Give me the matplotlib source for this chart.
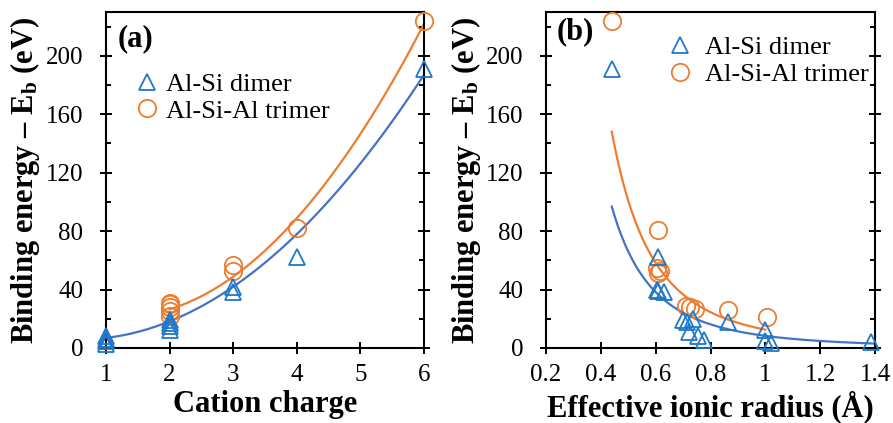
import numpy as np
import matplotlib
matplotlib.use("Agg")
import matplotlib.pyplot as plt
from matplotlib.lines import Line2D
from matplotlib.ticker import MultipleLocator

# ---------------- data ----------------
# panel (a): binding energy vs cation charge
a_dimer_q = [1, 1, 1, 1, 2, 2, 2, 2, 3, 3, 4, 6]
a_dimer_E = [3, 5, 6, 8, 12, 15, 17, 19, 38, 42, 62, 191]
a_trimer_q = [2, 2, 2, 2, 2, 3, 3, 4, 6]
a_trimer_E = [22, 25, 28, 30, 31, 53, 57, 82, 224]

# trend lines of panel (a) (quadratic trendlines)
a_trend_dimer_q = [1, 2, 3, 4, 6]
a_trend_dimer_E = [7, 18, 42, 78, 187]
a_trend_trimer_q = [2, 3, 4, 6]
a_trend_trimer_E = [26, 50, 88, 222]

# panel (b): binding energy vs effective ionic radius
b_dimer_r = [0.44, 0.61, 0.605, 0.61, 0.63, 0.70, 0.715, 0.735, 0.72, 0.755, 0.775,
             0.865, 1.0, 1.0, 1.02, 1.385]
b_dimer_E = [191, 62, 40, 39, 38, 19, 18, 20, 11, 8, 5.5,
             18, 12.5, 4.5, 3.5, 4]
b_trimer_r = [0.44, 0.61, 0.605, 0.615, 0.61, 0.71, 0.725, 0.745, 0.865, 1.005]
b_trimer_E = [224, 81, 55, 53, 51, 29, 28, 27, 26, 21.5]

# trend lines of panel (b) (power-law trendlines)
b_trend_dimer_r = [0.44, 0.6, 0.8, 1.0, 1.4]
b_trend_dimer_E = [94.5, 40, 15.7, 8.5, 3]
b_trend_trimer_r = [0.44, 0.6, 0.8, 1.0]
b_trend_trimer_E = [148, 60, 23, 13]

xticks_a = [1, 2, 3, 4, 5, 6]
xticks_b = [0.2, 0.4, 0.6, 0.8, 1.0, 1.2, 1.4]
xticklabels_b = ["0.2", "0.4", "0.6", "0.8", "1", "1.2", "1.4"]
yticks = [0, 40, 80, 120, 160, 200]

# ---------------- style ----------------
plt.rcParams["font.family"] = ["Liberation Serif", "DejaVu Serif"]
plt.rcParams["mathtext.fontset"] = "custom"
plt.rcParams["mathtext.rm"] = "Liberation Serif:bold"
plt.rcParams["mathtext.bf"] = "Liberation Serif:bold"
plt.rcParams["mathtext.it"] = "Liberation Serif:bold"

C_MARK_BLUE = "#1f78c8"
C_LINE_BLUE = "#4472C4"
C_ORANGE = "#ED7D31"

fig = plt.figure(figsize=(8.93, 4.23), dpi=100)
ax1 = fig.add_axes([106 / 893, 1 - 348 / 423, 318 / 893, 336 / 423])
ax2 = fig.add_axes([546 / 893, 1 - 348 / 423, 329 / 893, 336 / 423])

TICK_FS = 18
LABEL_FS = 22
LEG_FS = 19

ylabel = r"Binding energy – E$_{\mathbf{b}}$ (eV)"


def style_axes(ax):
    for s in ax.spines.values():
        s.set_linewidth(1.5)
    ax.tick_params(which="major", direction="inout", length=8.5, width=1.4,
                   right=True, top=False, labelsize=TICK_FS)
    ax.tick_params(axis="y", which="major", pad=12)
    ax.tick_params(axis="x", which="major", pad=7.5)
    ax.tick_params(axis="y", which="minor", direction="in", length=3.6, width=1.4,
                   right=True, left=True)
    ax.tick_params(axis="x", which="minor", bottom=False, top=False)
    ax.yaxis.set_minor_locator(MultipleLocator(20))
    ax.set_ylim(0, 230)
    ax.set_yticks(yticks)


def fit_poly(xs, ys, deg, xmin, xmax):
    c = np.polyfit(xs, ys, deg)
    xx = np.linspace(xmin, xmax, 200)
    return xx, np.polyval(c, xx)


def fit_power(xs, ys, xmin, xmax):
    c = np.polyfit(np.log(xs), np.log(ys), 1)
    xx = np.linspace(xmin, xmax, 200)
    return xx, np.exp(np.polyval(c, np.log(xx)))


MS_TRI = 12
MS_CIR = 12.5
mk_tri = dict(marker="^", ms=MS_TRI, mfc="none", mec=C_MARK_BLUE, mew=1.3, ls="none",
              clip_on=False, zorder=4)
mk_cir = dict(marker="o", ms=MS_CIR, mfc="none", mec=C_ORANGE, mew=1.3, ls="none",
              clip_on=False, zorder=3)

handles = [Line2D([], [], marker="^", ms=MS_TRI, mfc="none", mec=C_MARK_BLUE, mew=1.3, ls="none"),
           Line2D([], [], marker="o", ms=MS_CIR, mfc="none", mec=C_ORANGE, mew=1.3, ls="none")]
labels = ["Al-Si dimer", "Al-Si-Al trimer"]

# ---------------- panel (a) ----------------
style_axes(ax1)
x, y = fit_poly(a_trend_dimer_q, a_trend_dimer_E, 2, min(a_trend_dimer_q), max(a_trend_dimer_q))
ax1.plot(x, y, color=C_LINE_BLUE, lw=1.6, zorder=2)
x, y = fit_poly(a_trend_trimer_q, a_trend_trimer_E, 2, min(a_trend_trimer_q), max(a_trend_trimer_q))
ax1.plot(x, y, color=C_ORANGE, lw=1.6, zorder=2)
ax1.plot(a_trimer_q, a_trimer_E, **mk_cir)
ax1.plot(a_dimer_q, a_dimer_E, **mk_tri)
ax1.set_xlim(1, 6)
ax1.set_xticks(xticks_a)
ax1.set_xlabel("Cation charge", fontsize=LABEL_FS, fontweight="bold", labelpad=3)
ax1.set_ylabel(ylabel, fontsize=LABEL_FS, fontweight="bold", labelpad=3)
ax1.text(0.035, 0.92, "(a)", transform=ax1.transAxes, fontsize=22, fontweight="bold",
         ha="left", va="center")
ax1.legend(handles, labels, loc="upper left", bbox_to_anchor=(0.0865, 0.82),
           frameon=False, fontsize=LEG_FS, handlelength=1.0, handletextpad=0.24,
           labelspacing=0.12, borderpad=0, borderaxespad=0, numpoints=1)

# ---------------- panel (b) ----------------
style_axes(ax2)
x, y = fit_power(b_trend_dimer_r, b_trend_dimer_E, min(b_trend_dimer_r), max(b_trend_dimer_r))
ax2.plot(x, y, color=C_LINE_BLUE, lw=1.6, zorder=2)
x, y = fit_power(b_trend_trimer_r, b_trend_trimer_E, min(b_trend_trimer_r), max(b_trend_trimer_r))
ax2.plot(x, y, color=C_ORANGE, lw=1.6, zorder=2)
ax2.plot(b_trimer_r, b_trimer_E, **mk_cir)
ax2.plot(b_dimer_r, b_dimer_E, **mk_tri)
ax2.set_xlim(0.2, 1.4)
ax2.set_xticks(xticks_b)
ax2.set_xticklabels(xticklabels_b)
ax2.set_xlabel("Effective ionic radius (Å)", fontsize=LABEL_FS, fontweight="bold", labelpad=3)
ax2.set_ylabel(ylabel, fontsize=LABEL_FS, fontweight="bold", labelpad=2)
ax2.text(0.033, 0.94, "(b)", transform=ax2.transAxes, fontsize=22, fontweight="bold",
         ha="left", va="center")
ax2.legend(handles, labels, loc="upper left", bbox_to_anchor=(0.366, 0.93),
           frameon=False, fontsize=LEG_FS, handlelength=1.0, handletextpad=0.46,
           labelspacing=0.15, borderpad=0, borderaxespad=0, numpoints=1)

fig.savefig("out.png", dpi=100)
